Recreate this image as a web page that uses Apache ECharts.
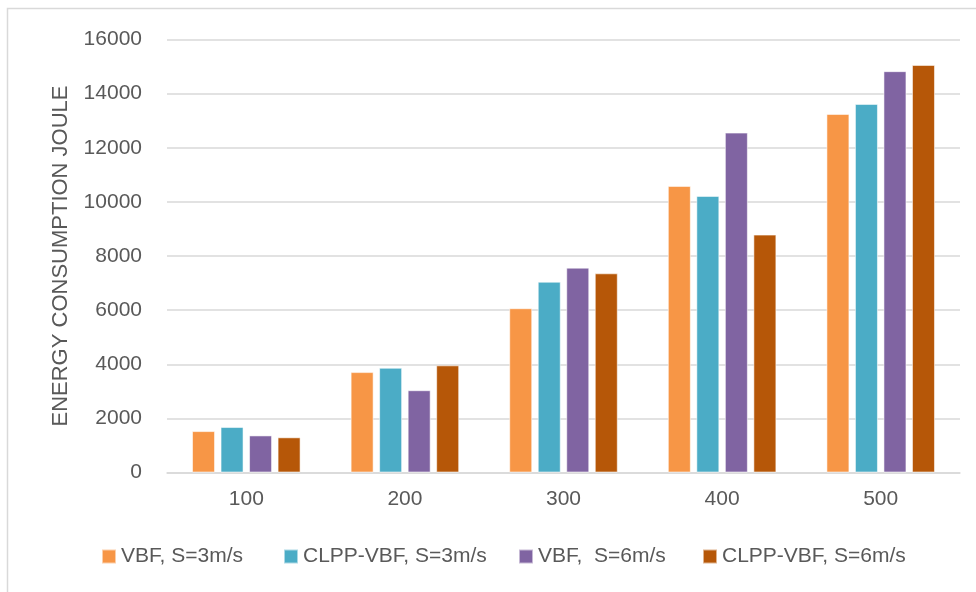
<!DOCTYPE html>
<html>
<head>
<meta charset="utf-8">
<script src="https://cdn.jsdelivr.net/npm/echarts@6/dist/echarts.min.js"></script>
<style>
  html, body { margin: 0; padding: 0; background: #fff; }
  #chart { width: 976px; height: 592px; }
</style>
</head>
<body>
<div id="chart"></div>
<script>
// Number of nodes on the x axis
const categories = ['100', '200', '300', '400', '500'];

// Energy consumption (joule) per protocol and speed
const vbf3 = [1530, 3710, 6070, 10590, 13250];
const clppVbf3 = [1680, 3870, 7050, 10220, 13620];
const vbf6 = [1370, 3040, 7570, 12560, 14830];
const clppVbf6 = [1300, 3960, 7360, 8790, 15060];

const seriesNames = ['VBF, S=3m/s', 'CLPP-VBF, S=3m/s', 'VBF,  S=6m/s', 'CLPP-VBF, S=6m/s'];
const seriesValues = [vbf3, clppVbf3, vbf6, clppVbf6];
const seriesColors = ['#F79646', '#4BACC6', '#8064A2', '#B65708'];

const yTicks = { min: 0, max: 16000, interval: 2000 };

const textColor = '#595959';
const fontFamily = '"Liberation Sans", Arial, sans-serif';

const chart = echarts.init(document.getElementById('chart'), null, { renderer: 'canvas' });

// one legend block per series, each placed on its own
const legendLefts = [101, 283, 518, 702];

chart.setOption({
  backgroundColor: '#ffffff',
  animation: false,
  graphic: [{
    type: 'rect',
    shape: { x: 7.5, y: 8.5, width: 1000, height: 1000 },
    style: { fill: 'none', stroke: '#d9d9d9', lineWidth: 1.5 },
    silent: true
  }],
  grid: { left: 167, right: 16, top: 39.5, bottom: 119.5, containLabel: false },
  legend: seriesNames.map((name, i) => ({
    data: [name],
    left: legendLefts[i],
    top: 546,
    padding: 0,
    icon: 'rect',
    itemWidth: 14,
    itemHeight: 14,
    itemGap: 6,
    textStyle: { color: textColor, fontSize: 21, fontFamily: fontFamily },
    selectedMode: false
  })),
  xAxis: {
    type: 'category',
    data: categories,
    axisLine: { show: true, lineStyle: { color: '#d9d9d9', width: 1.5 } },
    axisTick: { show: false },
    axisLabel: { color: textColor, fontSize: 21, fontFamily: fontFamily, margin: 16 }
  },
  yAxis: {
    type: 'value',
    min: yTicks.min,
    max: yTicks.max,
    interval: yTicks.interval,
    name: 'ENERGY CONSUMPTION JOULE',
    nameLocation: 'middle',
    nameGap: 95,
    nameTextStyle: { color: textColor, fontSize: 22, fontFamily: fontFamily },
    axisLine: { show: false },
    axisTick: { show: false },
    splitLine: { lineStyle: { color: '#d9d9d9', width: 1.5 } },
    axisLabel: {
      color: textColor, fontSize: 21, fontFamily: fontFamily, margin: 25,
      formatter: (v) => String(v)
    }
  },
  series: seriesValues.map((vals, i) => ({
    name: seriesNames[i],
    type: 'bar',
    data: vals,
    barWidth: 23,
    barGap: '24%',
    itemStyle: {
      color: seriesColors[i],
      borderColor: 'rgba(255,255,255,0.55)',
      borderWidth: 1
    }
  }))
});
</script>
</body>
</html>
